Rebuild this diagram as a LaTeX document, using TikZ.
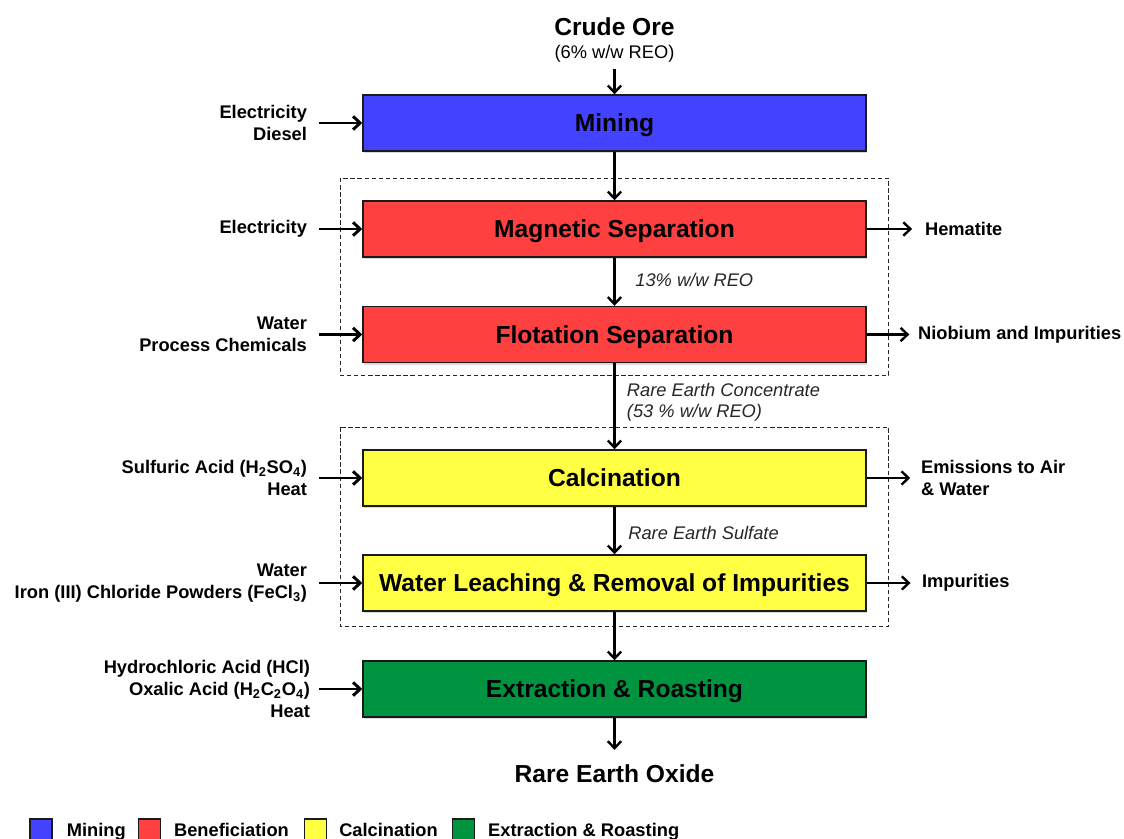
\documentclass[tikz,border=0pt]{standalone}
\usepackage{fontspec}
\setmainfont{Liberation Sans}
\usetikzlibrary{arrows.meta, positioning, shadows}
\definecolor{flowMining}{HTML}{4242FF}
\definecolor{flowBenef}{HTML}{FF4040}
\definecolor{flowCalc}{HTML}{FFFF44}
\definecolor{flowExtr}{HTML}{009440}
\definecolor{flowLine}{HTML}{1A1A1A}
\tikzset{
  flowfig/.style={
    x=0.025cm, y=-0.025cm,
    >={Straight Barb[length=5pt,width=9.5pt]},
  },
  stagebox/.style={
    draw=flowLine, line width=1pt, inner sep=0pt,
    minimum width=12.575cm, minimum height=1.4cm, text depth=0pt,
    font=\fontsize{17.5}{21}\selectfont\bfseries,
    drop shadow={shadow xshift=0.6pt, shadow yshift=-1.6pt, opacity=0.25, fill=black!60},
  },
  minebox/.style={stagebox, fill=flowMining},
  benefbox/.style={stagebox, fill=flowBenef},
  calcbox/.style={stagebox, fill=flowCalc},
  extrbox/.style={stagebox, fill=flowExtr},
  inlabel/.style={align=right, inner sep=0pt, font=\fontsize{13}{15.5}\selectfont\bfseries},
  outlabel/.style={align=left, inner sep=0pt, font=\fontsize{13}{15.5}\selectfont\bfseries},
  endlabel/.style={inner sep=0pt, font=\fontsize{17.5}{21}\selectfont\bfseries},
  flowlabel/.style={align=left, inner sep=0pt, font=\fontsize{13}{15}\selectfont\itshape, text=black!85},
  flow/.style={draw=black, line width=1.7pt, ->},
  feed/.style={flow, line width=2.1pt, shorten <=8.5pt},
  waste/.style={flow, shorten >=6pt},
  group/.style={draw=black!85, line width=0.7pt, dash pattern=on 3pt off 2pt},
  legsq/.style={draw=flowLine, line width=0.8pt, inner sep=0pt, minimum size=0.55cm},
  legtext/.style={inner sep=0pt, text height=9.4pt, text depth=0pt, font=\fontsize{13}{15}\selectfont\bfseries},
}
\begin{document}
\begin{tikzpicture}[flowfig]
  \useasboundingbox (0,0) rectangle (1124,839);
  % Prozessstufen
  \node[minebox] (Mining) at (614.5,123) {Mining};
  \node[benefbox] (MagSep) at (614.5,229) {Magnetic Separation};
  \node[benefbox] (FlotSep) at (614.5,334.5) {Flotation Separation};
  \node[calcbox] (Calcination) at (614.5,478) {Calcination};
  \node[calcbox] (Leaching) at (614.5,583) {Water Leaching \& Removal of Impurities};
  \node[extrbox] (Extraction) at (614.5,689) {Extraction \& Roasting};
  % Gruppen (gestrichelt)
  \draw[group] ([xshift=-0.55cm,yshift=0.55cm]MagSep.north west) rectangle ([xshift=0.55cm,yshift=-0.3cm]FlotSep.south east);
  \draw[group] ([xshift=-0.55cm,yshift=0.55cm]Calcination.north west) rectangle ([xshift=0.55cm,yshift=-0.375cm]Leaching.south east);
  % Ein- und Ausgang
  \node[endlabel] (CrudeOre) at (614.5,27) {Crude Ore};
  \node[inner sep=0pt, font=\fontsize{13}{15}\selectfont] (OreGrade) at (614.5,54) {(6\% w/w REO)};
  \node[endlabel] (RareOxide) at (614.5,774) {Rare Earth Oxide};
  % Zufuhr links
  \node[inlabel, left=1.375cm of Mining] (inMining) {Electricity\\Diesel};
  \node[inlabel, left=1.375cm of MagSep] (inMagSep) {Electricity};
  \node[inlabel, left=1.375cm of FlotSep] (inFlotSep) {Water\\Process Chemicals};
  \node[inlabel, left=1.375cm of Calcination] (inCalc) {Sulfuric Acid (H\textsubscript{2}SO\textsubscript{4})\\Heat};
  \node[inlabel, left=1.375cm of Leaching] (inLeach) {Water\\Iron (III) Chloride Powders (FeCl\textsubscript{3})};
  \node[inlabel, left=1.3cm of Extraction] (inExtr) {Hydrochloric Acid (HCl)\\Oxalic Acid (H\textsubscript{2}C\textsubscript{2}O\textsubscript{4})\\Heat};
  % Abgaenge rechts
  \node[outlabel, right=1.45cm of MagSep] (outMagSep) {Hematite};
  \node[outlabel, right=1.275cm of FlotSep] (outFlotSep) {Niobium and Impurities};
  \node[outlabel, right=1.35cm of Calcination] (outCalc) {Emissions to Air\\\& Water};
  \node[outlabel, right=1.375cm of Leaching] (outLeach) {Impurities};
  % Hauptstrom
  \draw[flow, shorten <=4.5pt] (OreGrade) -- (Mining);
  \draw[flow] (Mining) -- (MagSep);
  \draw[flow] (MagSep) -- node[flowlabel, midway, right=14pt, yshift=1pt] {13\% w/w REO} (FlotSep);
  \draw[flow] (FlotSep) -- node[flowlabel, midway, right=8pt, yshift=3pt] {Rare Earth Concentrate\\(53 \% w/w REO)} (Calcination);
  \draw[flow] (Calcination) -- node[flowlabel, midway, right=9pt, yshift=-2pt] {Rare Earth Sulfate} (Leaching);
  \draw[flow] (Leaching) -- (Extraction);
  \draw[flow, shorten >=10.5pt] (Extraction) -- (RareOxide);
  \draw[feed] (inMining) -- (Mining);
  \draw[feed] (inMagSep) -- (MagSep);
  \draw[feed] (inFlotSep) -- (FlotSep);
  \draw[feed] (inCalc) -- (Calcination);
  \draw[feed] (inLeach) -- (Leaching);
  \draw[feed, shorten <=6.5pt] (inExtr) -- (Extraction);
  \draw[waste, shorten >=9pt] (MagSep) -- (outMagSep);
  \draw[waste] (FlotSep) -- (outFlotSep);
  \draw[waste, shorten >=7.5pt] (Calcination) -- (outCalc);
  \draw[waste, shorten >=8pt] (Leaching) -- (outLeach);
  % Legende
  \node[legsq, fill=flowMining] (legMining) at (41,830) {};
  \node[legtext, right=10pt of legMining] (txtMining) {Mining};
  \node[legsq, fill=flowBenef, right=8.5pt of txtMining] (legBenef) {};
  \node[legtext, right=9pt of legBenef] (txtBenef) {Beneficiation};
  \node[legsq, fill=flowCalc, right=10.5pt of txtBenef] (legCalc) {};
  \node[legtext, right=8.5pt of legCalc] (txtCalc) {Calcination};
  \node[legsq, fill=flowExtr, right=10pt of txtCalc] (legExtr) {};
  \node[legtext, right=9pt of legExtr] (txtExtr) {Extraction \& Roasting};
\end{tikzpicture}
\end{document}
